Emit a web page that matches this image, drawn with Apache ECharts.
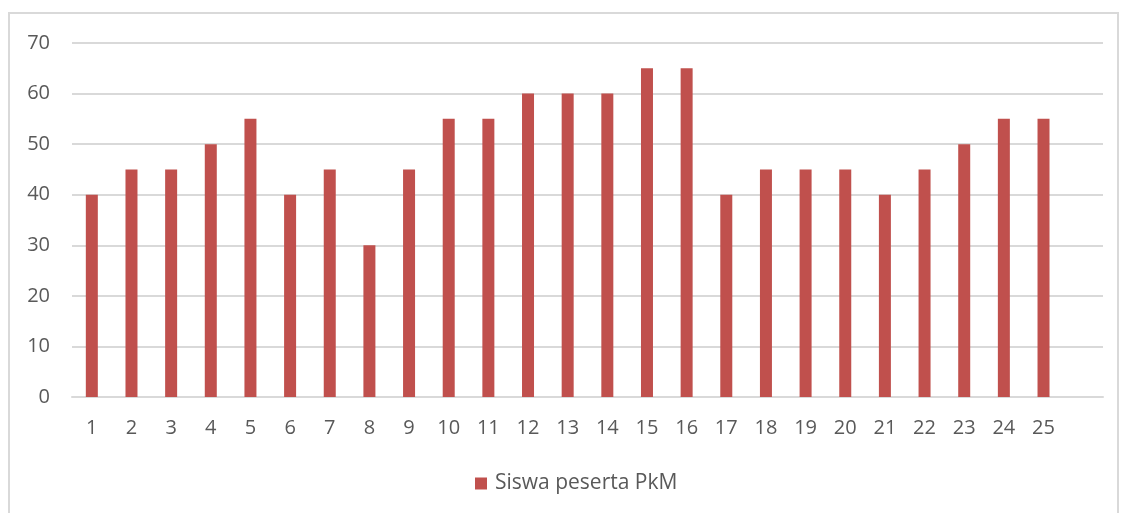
<!DOCTYPE html>
<html><head><meta charset="utf-8">
<script src="https://cdn.jsdelivr.net/npm/echarts@6/dist/echarts.min.js"></script>
<style>
html,body{margin:0;padding:0;background:#fff;}
#frame{position:absolute;left:8px;top:12px;width:1111px;height:520px;border:2px solid #d9d9d9;box-sizing:border-box;}
#c{position:absolute;left:0;top:0;width:1121px;height:513px;}
</style></head>
<body>
<div id="frame"></div>
<div id="c"></div>
<script>
const categories = ['1','2','3','4','5','6','7','8','9','10','11','12','13','14','15','16','17','18','19','20','21','22','23','24','25',''];
const values = [40,45,45,50,55,40,45,30,45,55,55,60,60,60,65,65,40,45,45,45,40,45,50,55,55,null];
const yTicks = [0,10,20,30,40,50,60,70];
const seriesName = 'Siswa peserta PkM';

const chart = echarts.init(document.getElementById('c'));
const font = '"Open Sans", "Noto Sans", sans-serif';
chart.setOption({
  animation:false,
  textStyle:{fontFamily:font},
  grid:{left:72,right:18,top:43,bottom:116,containLabel:false},
  legend:{bottom:14,left:470,itemWidth:12,itemHeight:12,icon:'rect',itemGap:6,
    textStyle:{color:'#595959',fontSize:21,fontFamily:font,padding:[0,0,0,3]},data:[seriesName]},
  xAxis:{type:'category',data:categories,
    axisLine:{lineStyle:{color:'#d9d9d9',width:2}},axisTick:{show:false},
    axisLabel:{color:'#595959',fontSize:20,margin:21,fontFamily:font,interval:0}},
  yAxis:{type:'value',min:yTicks[0],max:yTicks[yTicks.length-1],interval:10,
    axisLine:{show:false},axisTick:{show:false},
    splitLine:{lineStyle:{color:'#d9d9d9',width:2}},
    axisLabel:{color:'#595959',fontSize:20,margin:22,fontFamily:font}},
  series:[{name:seriesName,type:'bar',data:values,barWidth:12,
    itemStyle:{color:'#C0504D'}}]
});
</script>
</body></html>
